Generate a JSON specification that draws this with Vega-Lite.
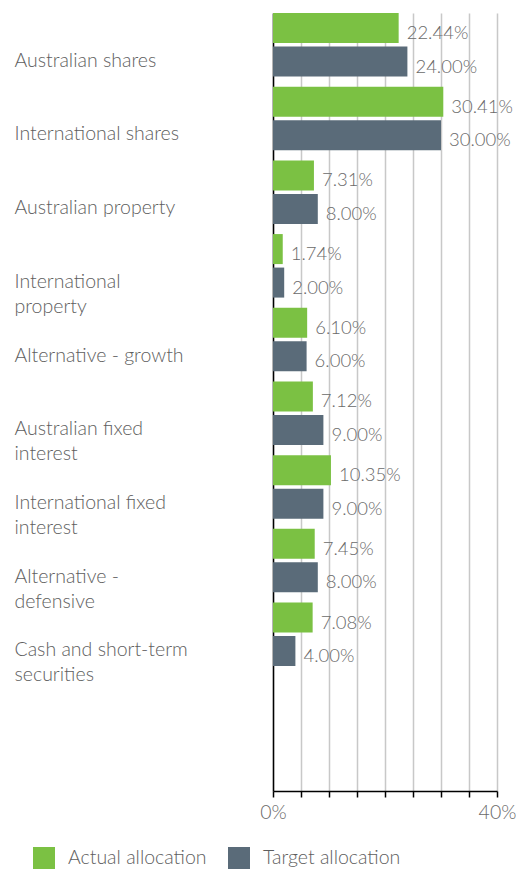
{
  "$schema": "https://vega.github.io/schema/vega-lite/v6.json",
  "width": 224,
  "height": 778,
  "autosize": {"type": "none"},
  "padding": {"left": 273, "top": 13, "right": 19, "bottom": 82},
  "config": {
    "view": {"stroke": null},
    "font": "Lato",
    "text": {"font": "Lato"}
  },
  "data": {
    "values": [
      {"category": "Australian shares", "series": "Actual allocation", "value": 0.2244},
      {"category": "Australian shares", "series": "Target allocation", "value": 0.24},
      {"category": "International shares", "series": "Actual allocation", "value": 0.3041},
      {"category": "International shares", "series": "Target allocation", "value": 0.30},
      {"category": "Australian property", "series": "Actual allocation", "value": 0.0731},
      {"category": "Australian property", "series": "Target allocation", "value": 0.08},
      {"category": "International property", "series": "Actual allocation", "value": 0.0174},
      {"category": "International property", "series": "Target allocation", "value": 0.02},
      {"category": "Alternative - growth", "series": "Actual allocation", "value": 0.061},
      {"category": "Alternative - growth", "series": "Target allocation", "value": 0.06},
      {"category": "Australian fixed interest", "series": "Actual allocation", "value": 0.0712},
      {"category": "Australian fixed interest", "series": "Target allocation", "value": 0.09},
      {"category": "International fixed interest", "series": "Actual allocation", "value": 0.1035},
      {"category": "International fixed interest", "series": "Target allocation", "value": 0.09},
      {"category": "Alternative - defensive", "series": "Actual allocation", "value": 0.0745},
      {"category": "Alternative - defensive", "series": "Target allocation", "value": 0.08},
      {"category": "Cash and short-term securities", "series": "Actual allocation", "value": 0.0708},
      {"category": "Cash and short-term securities", "series": "Target allocation", "value": 0.04}
    ]
  },
  "encoding": {
    "y": {
      "field": "category",
      "type": "nominal",
      "sort": null,
      "scale": {"paddingInner": 0.138, "paddingOuter": 0.848, "align": 0},
      "axis": {
        "title": null,
        "ticks": false,
        "domainColor": "#000000",
        "domainWidth": 1.5,
        "labelAlign": "left",
        "labelBaseline": "top",
        "labelPadding": 259,
        "labelOffset": 7,
        "labelLimit": 300,
        "labelFont": "Lato",
        "labelFontWeight": 300,
        "labelFontSize": 19.5,
        "labelColor": "#5e5e5e",
        "labelLineHeight": 25,
        "labelExpr": "datum.value == 'International property' ? ['International', 'property'] : datum.value == 'Australian fixed interest' ? ['Australian fixed', 'interest'] : datum.value == 'International fixed interest' ? ['International fixed', 'interest'] : datum.value == 'Alternative - defensive' ? ['Alternative -', 'defensive'] : datum.value == 'Cash and short-term securities' ? ['Cash and short-term', 'securities'] : datum.value"
      }
    },
    "yOffset": {
      "field": "series",
      "type": "nominal",
      "sort": ["Actual allocation", "Target allocation"],
      "scale": {"paddingInner": 0.104, "paddingOuter": 0}
    },
    "x": {
      "field": "value",
      "type": "quantitative",
      "scale": {"domain": [0, 0.4], "nice": false},
      "axis": {
        "title": null,
        "values": [0, 0.05, 0.1, 0.15, 0.2, 0.25, 0.3, 0.35, 0.4],
        "labelExpr": "datum.value == 0 || datum.value == 0.4 ? format(datum.value, '.0%') : ''",
        "grid": true,
        "gridColor": "#c8c8c8",
        "gridWidth": 1.5,
        "domainColor": "#000000",
        "domainWidth": 1.5,
        "tickColor": "#000000",
        "tickWidth": 1.5,
        "tickSize": 6,
        "labelPadding": 6,
        "labelFont": "Lato",
        "labelFontWeight": 300,
        "labelFontSize": 19.5,
        "labelColor": "#6a6a6a",
        "labelFlush": false
      }
    }
  },
  "layer": [
    {
      "mark": {"type": "bar", "opacity": 1},
      "encoding": {
        "color": {
          "field": "series",
          "type": "nominal",
          "scale": {"domain": ["Actual allocation", "Target allocation"], "range": ["#7BC143", "#5A6B79"]},
          "legend": {
            "title": null,
            "orient": "none",
            "direction": "horizontal",
            "legendX": -240,
            "legendY": 834,
            "padding": 0,
            "symbolType": "square",
            "symbolSize": 484,
            "symbolStrokeWidth": 0,
            "symbolOpacity": 1,
            "labelFont": "Lato",
            "labelFontWeight": 300,
            "labelFontSize": 19.5,
            "labelColor": "#5e5e5e",
            "labelOffset": 13,
            "columnPadding": 21,
            "labelLimit": 300
          }
        }
      }
    },
    {
      "mark": {"type": "text", "align": "left", "baseline": "middle", "dx": 8, "dy": 5, "font": "Lato", "fontWeight": 300, "fontSize": 18.5, "color": "#6a6a6a"},
      "encoding": {
        "text": {"field": "value", "type": "quantitative", "format": ".2%"}
      }
    }
  ]
}
